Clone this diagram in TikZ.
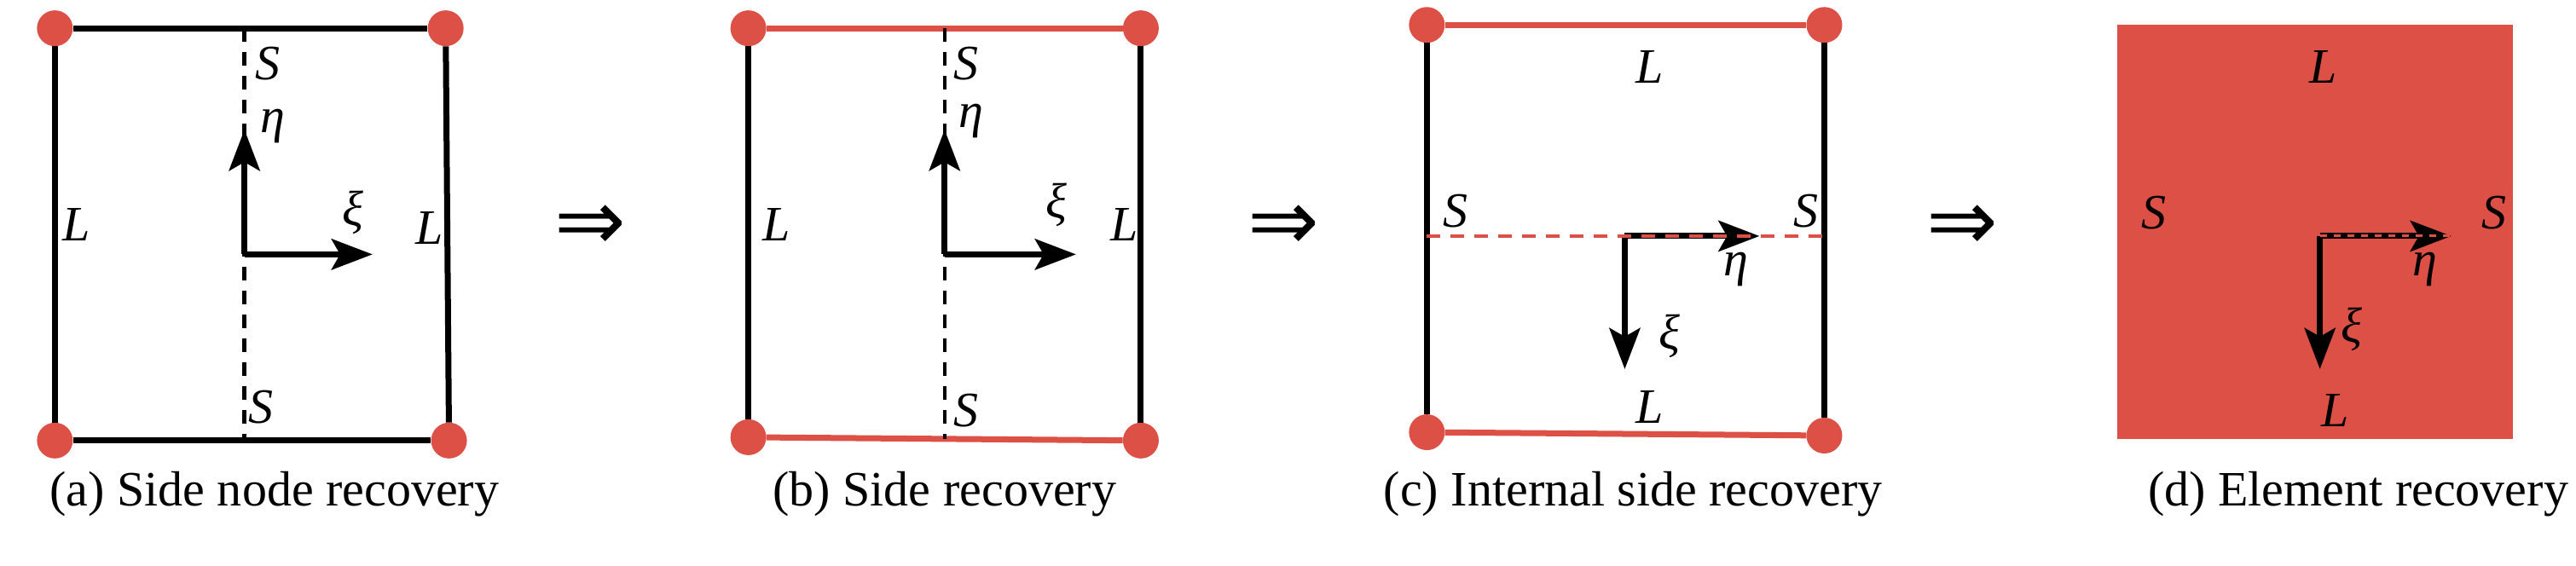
\documentclass[tikz,border=0pt]{standalone}
\usepackage{fontspec}
\setmainfont{Liberation Serif}
\newfontfamily\symfont{DejaVu Sans}
\usetikzlibrary{arrows.meta}
\definecolor{pr}{RGB}{220,80,70}
\tikzset{
  rdot/.style={circle,fill=pr,draw=none,minimum width=38pt,minimum height=42pt,inner sep=0pt},
  blk/.style={draw=black,line width=7pt},
  rl/.style={draw=pr,line width=7pt},
  dsh/.style={line width=4.5pt,dash pattern=on 16pt off 12pt},
  axarrow/.style={line width=7pt,-{Stealth[length=48pt,width=36pt,inset=10pt]}},
  lab/.style={font=\fontsize{58}{60}\selectfont\itshape,inner sep=0pt},
  captext/.style={font=\fontsize{58}{64}\selectfont,inner sep=0pt},
  imp/.style={font=\symfont\fontsize{100}{100}\selectfont,inner sep=0pt}
}
\begin{document}
\begin{tikzpicture}[x=1.95pt,y=-1.95pt]
\useasboundingbox (0,0) rectangle (1549,340);
% ---------- (a)
\node[rdot] (a1) at (33,17) {};
\node[rdot] (a2) at (268,17) {};
\node[rdot] (a3) at (33,265) {};
\node[rdot] (a4) at (270,265) {};
\draw[blk] (a1) -- (a2); \draw[blk] (a3) -- (a4);
\draw[blk] (a1) -- (a3); \draw[blk] (a2) -- (a4);
\coordinate (pat) at (147,17); \coordinate (pab) at (147,265); \coordinate (pao) at (147,153);
\coordinate (pae) at (147,78); \coordinate (pax) at (224,153);
\draw[dsh] (pat) -- (pab);
\draw[axarrow] (pao) -- (pae); \draw[axarrow] (pao) -- (pax);
\node[lab] at (161,38) {S};
\node[lab] at (157,245) {S};
\node[lab] at (164,76) {η};
\node[lab] at (212,128) {ξ};
\node[lab] at (46,135) {L};
\node[lab] at (258,137) {L};
\node[imp] (i1) at (355,137) {⇒};
\node[captext] at (165,297) {(a) Side node recovery};
% ---------- (b)
\node[rdot] (b1) at (450,17) {};
\node[rdot] (b2) at (686,17) {};
\node[rdot] (b3) at (450,263) {};
\node[rdot] (b4) at (686,265) {};
\draw[rl] (b1) -- (b2); \draw[rl] (b3) -- (b4);
\draw[blk] (b1) -- (b3); \draw[blk] (b2) -- (b4);
\coordinate (pbt) at (568,17); \coordinate (pbb) at (568,264); \coordinate (pbo) at (568,153);
\coordinate (pbe) at (568,78); \coordinate (pbx) at (647,153);
\draw[dsh] (pbt) -- (pbb);
\draw[axarrow] (pbo) -- (pbe); \draw[axarrow] (pbo) -- (pbx);
\node[lab] at (581,38) {S};
\node[lab] at (581,247) {S};
\node[lab] at (584,73) {η};
\node[lab] at (635,123) {ξ};
\node[lab] at (467,135) {L};
\node[lab] at (676,135) {L};
\node[imp] (i2) at (772,137) {⇒};
\node[captext] at (568,297) {(b) Side recovery};
% ---------- (c)
\node[rdot] (c1) at (858,15) {};
\node[rdot] (c2) at (1097,15) {};
\node[rdot] (c3) at (858,260) {};
\node[rdot] (c4) at (1097,262) {};
\draw[rl] (c1) -- (c2); \draw[rl] (c3) -- (c4);
\draw[blk] (c1) -- (c3); \draw[blk] (c2) -- (c4);
\coordinate (pcl) at (858,142); \coordinate (pcr) at (1097,142); \coordinate (pco) at (977,142);
\coordinate (pce) at (1058,142); \coordinate (pcx) at (977,222);
\draw[axarrow] (pco) -- (pce); \draw[axarrow] (pco) -- (pcx);
\draw[dsh,draw=pr] (pcl) -- (pcr);
\node[lab] at (992,40) {L};
\node[lab] at (992,245) {L};
\node[lab] at (875,127) {S};
\node[lab] at (1086,127) {S};
\node[lab] at (1044,162) {η};
\node[lab] at (1004,202) {ξ};
\node[imp] (i3) at (1180,137) {⇒};
\node[captext] at (982,297) {(c) Internal side recovery};
% ---------- (d)
\fill[pr] (1273,15) rectangle (1511,264);
\coordinate (pdo) at (1395,142); \coordinate (pde) at (1474,142); \coordinate (pdx) at (1395,222);
\draw[axarrow] (pdo) -- (pde); \draw[axarrow] (pdo) -- (pdx);
\draw[draw=pr,line width=3pt,dash pattern=on 8pt off 8pt] (pdo) -- (pde);
\node[lab] at (1397,40) {L};
\node[lab] at (1404,247) {L};
\node[lab] at (1295,128) {S};
\node[lab] at (1500,128) {S};
\node[lab] at (1458,162) {η};
\node[lab] at (1414,198) {ξ};
\node[captext] at (1418,297) {(d) Element recovery};
\end{tikzpicture}
\end{document}
